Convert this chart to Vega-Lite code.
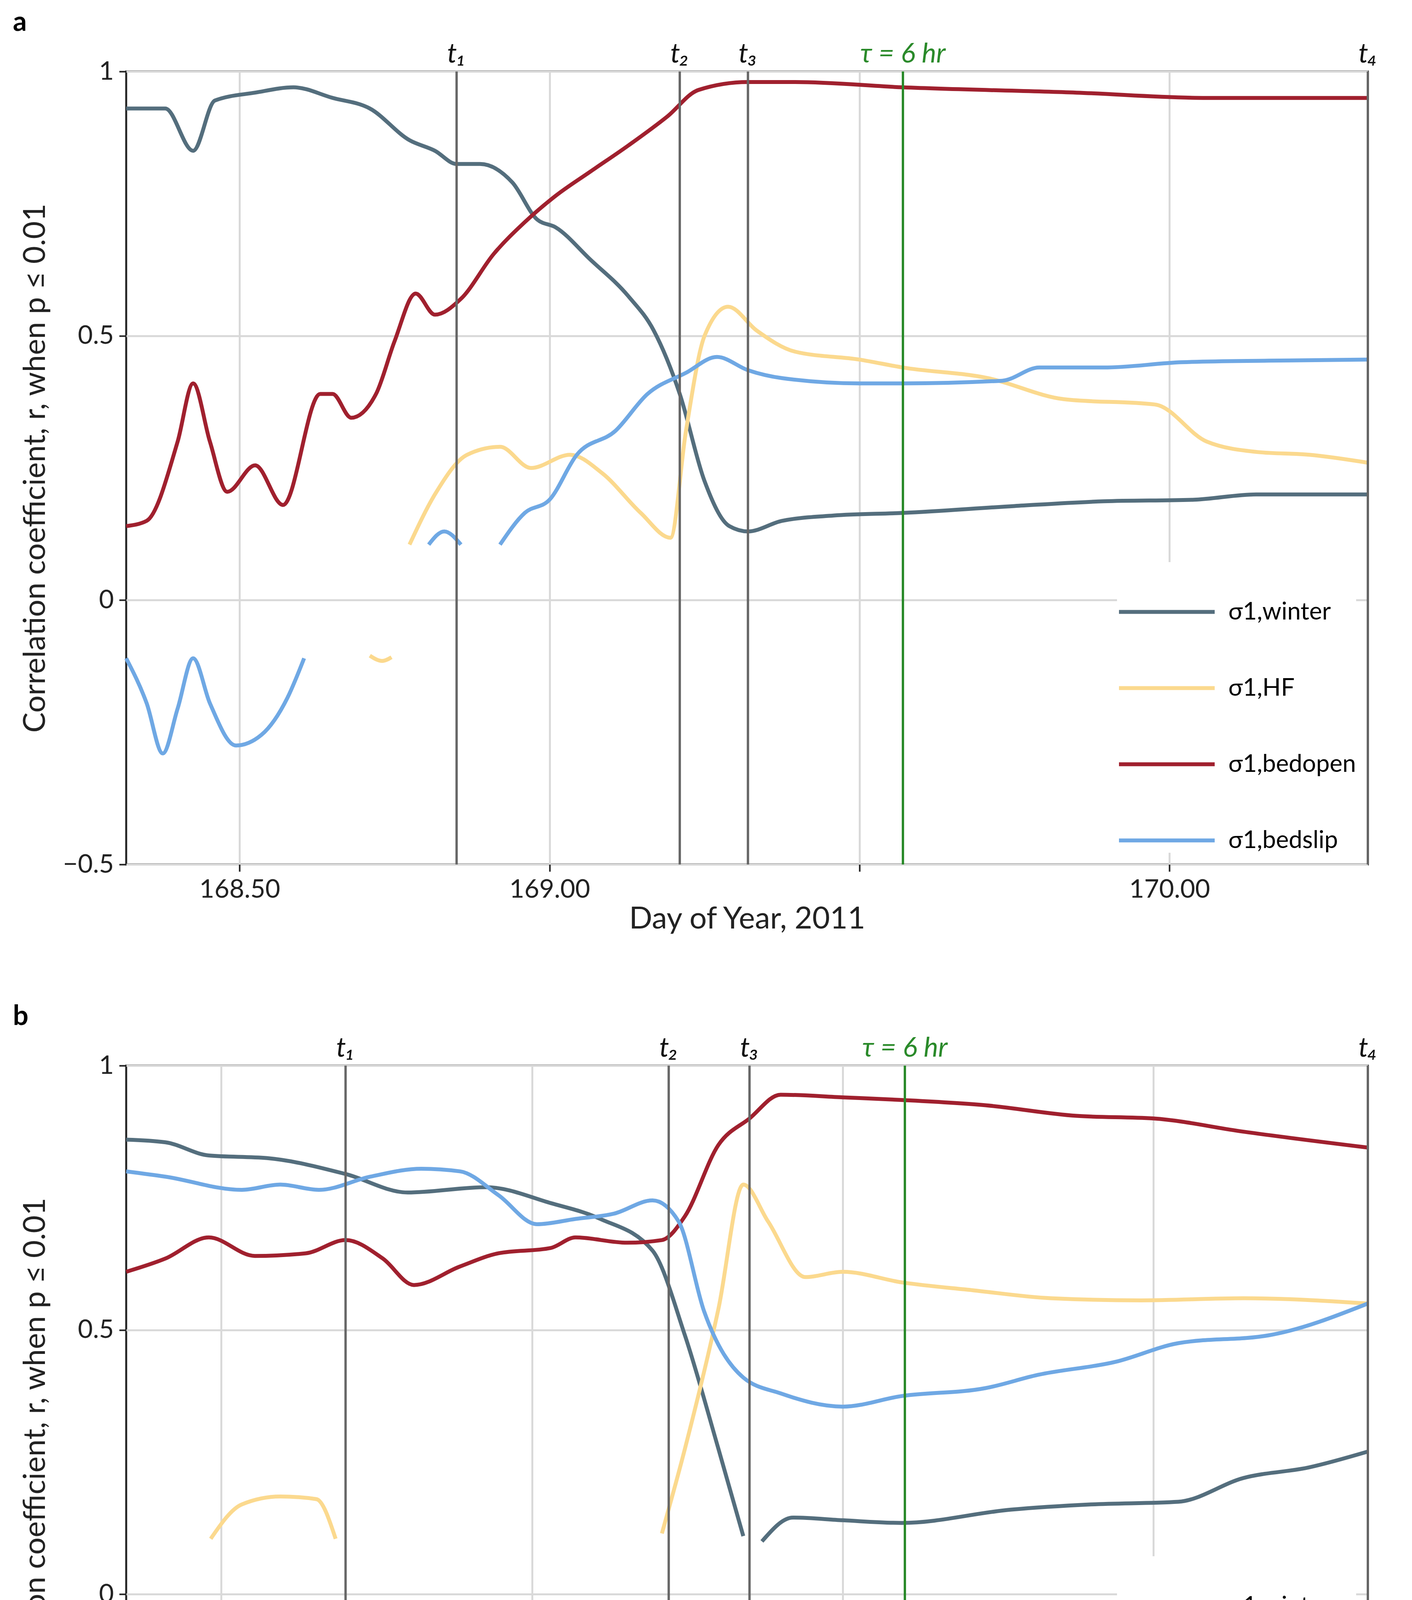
{
  "$schema": "https://vega.github.io/schema/vega-lite/v6.json",
  "background": "white",
  "padding": {"left": 30, "top": 20, "right": 60, "bottom": 10},
  "spacing": 170,
  "config": {
    "font": "Lato",
    "view": {"stroke": "#222", "strokeWidth": 5},
    "axis": {"labelFontSize": 66, "titleFontSize": 78, "titleFontWeight": "normal", "labelColor": "#222", "titleColor": "#222", "domain": false, "tickColor": "#222", "tickWidth": 4, "tickSize": 18, "gridColor": "#d9d9d9", "gridWidth": 5, "labelPadding": 14, "labelLimit": 0},
    "legend": {"labelFontSize": 62, "labelLimit": 0, "symbolType": "stroke", "symbolStrokeWidth": 10, "symbolSize": 60000, "rowPadding": 36, "labelOffset": 30, "offset": 30, "orient": "bottom-right", "fillColor": "white"},
    "title": {"fontSize": 70, "fontWeight": "bold", "anchor": "start", "frame": "group", "dx": -290, "offset": 10}
  },
  "datasets": {
    "ev_a": [
      {"x": 168.85, "lab": "t₁", "c": "ev"}, {"x": 169.21, "lab": "t₂", "c": "ev"}, {"x": 169.32, "lab": "t₃", "c": "ev"},
      {"x": 169.57, "lab": "τ = 6 hr", "c": "tau"}, {"x": 170.32, "lab": "t₄", "c": "ev"}
    ],
    "ev_b": [
      {"x": 161.2, "lab": "t₁", "c": "ev"}, {"x": 161.72, "lab": "t₂", "c": "ev"}, {"x": 161.85, "lab": "t₃", "c": "ev"},
      {"x": 162.1, "lab": "τ = 6 hr", "c": "tau"}, {"x": 162.845, "lab": "t₄", "c": "ev"}
    ],
    "a": [
      {"k": "σ1,winter", "g": 1, "x": 168.317, "y": 0.93}, {"k": "σ1,winter", "g": 1, "x": 168.38, "y": 0.93}, {"k": "σ1,winter", "g": 1, "x": 168.425, "y": 0.85}, {"k": "σ1,winter", "g": 1, "x": 168.46, "y": 0.945}, {"k": "σ1,winter", "g": 1, "x": 168.525, "y": 0.96}, {"k": "σ1,winter", "g": 1, "x": 168.587, "y": 0.97}, {"k": "σ1,winter", "g": 1, "x": 168.65, "y": 0.95}, {"k": "σ1,winter", "g": 1, "x": 168.71, "y": 0.93}, {"k": "σ1,winter", "g": 1, "x": 168.774, "y": 0.87}, {"k": "σ1,winter", "g": 1, "x": 168.815, "y": 0.85}, {"k": "σ1,winter", "g": 1, "x": 168.85, "y": 0.825}, {"k": "σ1,winter", "g": 1, "x": 168.888, "y": 0.825}, {"k": "σ1,winter", "g": 1, "x": 168.94, "y": 0.79}, {"k": "σ1,winter", "g": 1, "x": 168.98, "y": 0.72}, {"k": "σ1,winter", "g": 1, "x": 169.01, "y": 0.705}, {"k": "σ1,winter", "g": 1, "x": 169.065, "y": 0.645}, {"k": "σ1,winter", "g": 1, "x": 169.127, "y": 0.575}, {"k": "σ1,winter", "g": 1, "x": 169.168, "y": 0.51}, {"k": "σ1,winter", "g": 1, "x": 169.21, "y": 0.39}, {"k": "σ1,winter", "g": 1, "x": 169.25, "y": 0.225}, {"k": "σ1,winter", "g": 1, "x": 169.29, "y": 0.14}, {"k": "σ1,winter", "g": 1, "x": 169.32, "y": 0.13}, {"k": "σ1,winter", "g": 1, "x": 169.375, "y": 0.15}, {"k": "σ1,winter", "g": 1, "x": 169.458, "y": 0.16}, {"k": "σ1,winter", "g": 1, "x": 169.57, "y": 0.165}, {"k": "σ1,winter", "g": 1, "x": 169.75, "y": 0.178}, {"k": "σ1,winter", "g": 1, "x": 169.894, "y": 0.187}, {"k": "σ1,winter", "g": 1, "x": 170.04, "y": 0.19}, {"k": "σ1,winter", "g": 1, "x": 170.14, "y": 0.2}, {"k": "σ1,winter", "g": 1, "x": 170.32, "y": 0.2},
      {"k": "σ1,HF", "g": 1, "x": 168.71, "y": -0.105}, {"k": "σ1,HF", "g": 1, "x": 168.73, "y": -0.115}, {"k": "σ1,HF", "g": 1, "x": 168.745, "y": -0.108},
      {"k": "σ1,HF", "g": 2, "x": 168.774, "y": 0.105}, {"k": "σ1,HF", "g": 2, "x": 168.815, "y": 0.2}, {"k": "σ1,HF", "g": 2, "x": 168.867, "y": 0.275}, {"k": "σ1,HF", "g": 2, "x": 168.92, "y": 0.29}, {"k": "σ1,HF", "g": 2, "x": 168.97, "y": 0.25}, {"k": "σ1,HF", "g": 2, "x": 169.033, "y": 0.275}, {"k": "σ1,HF", "g": 2, "x": 169.085, "y": 0.24}, {"k": "σ1,HF", "g": 2, "x": 169.147, "y": 0.165}, {"k": "σ1,HF", "g": 2, "x": 169.195, "y": 0.118}, {"k": "σ1,HF", "g": 2, "x": 169.22, "y": 0.32}, {"k": "σ1,HF", "g": 2, "x": 169.25, "y": 0.5}, {"k": "σ1,HF", "g": 2, "x": 169.288, "y": 0.555}, {"k": "σ1,HF", "g": 2, "x": 169.334, "y": 0.51}, {"k": "σ1,HF", "g": 2, "x": 169.396, "y": 0.47}, {"k": "σ1,HF", "g": 2, "x": 169.5, "y": 0.455}, {"k": "σ1,HF", "g": 2, "x": 169.57, "y": 0.44}, {"k": "σ1,HF", "g": 2, "x": 169.707, "y": 0.42}, {"k": "σ1,HF", "g": 2, "x": 169.83, "y": 0.38}, {"k": "σ1,HF", "g": 2, "x": 169.977, "y": 0.37}, {"k": "σ1,HF", "g": 2, "x": 170.06, "y": 0.3}, {"k": "σ1,HF", "g": 2, "x": 170.143, "y": 0.28}, {"k": "σ1,HF", "g": 2, "x": 170.226, "y": 0.275}, {"k": "σ1,HF", "g": 2, "x": 170.32, "y": 0.26},
      {"k": "σ1,bedopen", "g": 1, "x": 168.317, "y": 0.14}, {"k": "σ1,bedopen", "g": 1, "x": 168.35, "y": 0.15}, {"k": "σ1,bedopen", "g": 1, "x": 168.4, "y": 0.3}, {"k": "σ1,bedopen", "g": 1, "x": 168.425, "y": 0.41}, {"k": "σ1,bedopen", "g": 1, "x": 168.452, "y": 0.3}, {"k": "σ1,bedopen", "g": 1, "x": 168.48, "y": 0.205}, {"k": "σ1,bedopen", "g": 1, "x": 168.525, "y": 0.255}, {"k": "σ1,bedopen", "g": 1, "x": 168.57, "y": 0.18}, {"k": "σ1,bedopen", "g": 1, "x": 168.63, "y": 0.39}, {"k": "σ1,bedopen", "g": 1, "x": 168.65, "y": 0.39}, {"k": "σ1,bedopen", "g": 1, "x": 168.68, "y": 0.345}, {"k": "σ1,bedopen", "g": 1, "x": 168.72, "y": 0.39}, {"k": "σ1,bedopen", "g": 1, "x": 168.75, "y": 0.49}, {"k": "σ1,bedopen", "g": 1, "x": 168.784, "y": 0.58}, {"k": "σ1,bedopen", "g": 1, "x": 168.815, "y": 0.54}, {"k": "σ1,bedopen", "g": 1, "x": 168.857, "y": 0.57}, {"k": "σ1,bedopen", "g": 1, "x": 168.91, "y": 0.655}, {"k": "σ1,bedopen", "g": 1, "x": 168.96, "y": 0.715}, {"k": "σ1,bedopen", "g": 1, "x": 169.01, "y": 0.765}, {"k": "σ1,bedopen", "g": 1, "x": 169.065, "y": 0.81}, {"k": "σ1,bedopen", "g": 1, "x": 169.127, "y": 0.86}, {"k": "σ1,bedopen", "g": 1, "x": 169.19, "y": 0.915}, {"k": "σ1,bedopen", "g": 1, "x": 169.24, "y": 0.965}, {"k": "σ1,bedopen", "g": 1, "x": 169.32, "y": 0.98}, {"k": "σ1,bedopen", "g": 1, "x": 169.396, "y": 0.98}, {"k": "σ1,bedopen", "g": 1, "x": 169.57, "y": 0.97}, {"k": "σ1,bedopen", "g": 1, "x": 169.85, "y": 0.96}, {"k": "σ1,bedopen", "g": 1, "x": 170.06, "y": 0.95}, {"k": "σ1,bedopen", "g": 1, "x": 170.32, "y": 0.95},
      {"k": "σ1,bedslip", "g": 1, "x": 168.317, "y": -0.11}, {"k": "σ1,bedslip", "g": 1, "x": 168.35, "y": -0.195}, {"k": "σ1,bedslip", "g": 1, "x": 168.376, "y": -0.29}, {"k": "σ1,bedslip", "g": 1, "x": 168.4, "y": -0.205}, {"k": "σ1,bedslip", "g": 1, "x": 168.425, "y": -0.11}, {"k": "σ1,bedslip", "g": 1, "x": 168.452, "y": -0.195}, {"k": "σ1,bedslip", "g": 1, "x": 168.494, "y": -0.275}, {"k": "σ1,bedslip", "g": 1, "x": 168.535, "y": -0.255}, {"k": "σ1,bedslip", "g": 1, "x": 168.577, "y": -0.185}, {"k": "σ1,bedslip", "g": 1, "x": 168.604, "y": -0.11},
      {"k": "σ1,bedslip", "g": 2, "x": 168.805, "y": 0.105}, {"k": "σ1,bedslip", "g": 2, "x": 168.83, "y": 0.13}, {"k": "σ1,bedslip", "g": 2, "x": 168.857, "y": 0.105},
      {"k": "σ1,bedslip", "g": 3, "x": 168.92, "y": 0.105}, {"k": "σ1,bedslip", "g": 3, "x": 168.96, "y": 0.165}, {"k": "σ1,bedslip", "g": 3, "x": 169.0, "y": 0.19}, {"k": "σ1,bedslip", "g": 3, "x": 169.044, "y": 0.275}, {"k": "σ1,bedslip", "g": 3, "x": 169.106, "y": 0.32}, {"k": "σ1,bedslip", "g": 3, "x": 169.158, "y": 0.39}, {"k": "σ1,bedslip", "g": 3, "x": 169.22, "y": 0.43}, {"k": "σ1,bedslip", "g": 3, "x": 169.27, "y": 0.46}, {"k": "σ1,bedslip", "g": 3, "x": 169.32, "y": 0.435}, {"k": "σ1,bedslip", "g": 3, "x": 169.375, "y": 0.42}, {"k": "σ1,bedslip", "g": 3, "x": 169.5, "y": 0.41}, {"k": "σ1,bedslip", "g": 3, "x": 169.57, "y": 0.41}, {"k": "σ1,bedslip", "g": 3, "x": 169.73, "y": 0.415}, {"k": "σ1,bedslip", "g": 3, "x": 169.79, "y": 0.44}, {"k": "σ1,bedslip", "g": 3, "x": 169.894, "y": 0.44}, {"k": "σ1,bedslip", "g": 3, "x": 170.02, "y": 0.45}, {"k": "σ1,bedslip", "g": 3, "x": 170.16, "y": 0.453}, {"k": "σ1,bedslip", "g": 3, "x": 170.32, "y": 0.455}
    ],
    "b": [
      {"k": "σ1,winter", "g": 1, "x": 160.847, "y": 0.86}, {"k": "σ1,winter", "g": 1, "x": 160.91, "y": 0.855}, {"k": "σ1,winter", "g": 1, "x": 160.98, "y": 0.83}, {"k": "σ1,winter", "g": 1, "x": 161.074, "y": 0.825}, {"k": "σ1,winter", "g": 1, "x": 161.2, "y": 0.795}, {"k": "σ1,winter", "g": 1, "x": 161.3, "y": 0.76}, {"k": "σ1,winter", "g": 1, "x": 161.426, "y": 0.77}, {"k": "σ1,winter", "g": 1, "x": 161.53, "y": 0.74}, {"k": "σ1,winter", "g": 1, "x": 161.61, "y": 0.71}, {"k": "σ1,winter", "g": 1, "x": 161.694, "y": 0.65}, {"k": "σ1,winter", "g": 1, "x": 161.746, "y": 0.49}, {"k": "σ1,winter", "g": 1, "x": 161.8, "y": 0.275}, {"k": "σ1,winter", "g": 1, "x": 161.84, "y": 0.11},
      {"k": "σ1,winter", "g": 2, "x": 161.87, "y": 0.1}, {"k": "σ1,winter", "g": 2, "x": 161.92, "y": 0.145}, {"k": "σ1,winter", "g": 2, "x": 162.0, "y": 0.14}, {"k": "σ1,winter", "g": 2, "x": 162.095, "y": 0.135}, {"k": "σ1,winter", "g": 2, "x": 162.27, "y": 0.16}, {"k": "σ1,winter", "g": 2, "x": 162.4, "y": 0.17}, {"k": "σ1,winter", "g": 2, "x": 162.54, "y": 0.175}, {"k": "σ1,winter", "g": 2, "x": 162.645, "y": 0.22}, {"k": "σ1,winter", "g": 2, "x": 162.75, "y": 0.24}, {"k": "σ1,winter", "g": 2, "x": 162.845, "y": 0.27},
      {"k": "σ1,HF", "g": 1, "x": 160.983, "y": 0.105}, {"k": "σ1,HF", "g": 1, "x": 161.033, "y": 0.17}, {"k": "σ1,HF", "g": 1, "x": 161.095, "y": 0.185}, {"k": "σ1,HF", "g": 1, "x": 161.153, "y": 0.18}, {"k": "σ1,HF", "g": 1, "x": 161.184, "y": 0.105},
      {"k": "σ1,HF", "g": 2, "x": 161.709, "y": 0.115}, {"k": "σ1,HF", "g": 2, "x": 161.746, "y": 0.275}, {"k": "σ1,HF", "g": 2, "x": 161.8, "y": 0.54}, {"k": "σ1,HF", "g": 2, "x": 161.84, "y": 0.775}, {"k": "σ1,HF", "g": 2, "x": 161.88, "y": 0.705}, {"k": "σ1,HF", "g": 2, "x": 161.94, "y": 0.6}, {"k": "σ1,HF", "g": 2, "x": 162.0, "y": 0.61}, {"k": "σ1,HF", "g": 2, "x": 162.095, "y": 0.59}, {"k": "σ1,HF", "g": 2, "x": 162.21, "y": 0.575}, {"k": "σ1,HF", "g": 2, "x": 162.335, "y": 0.56}, {"k": "σ1,HF", "g": 2, "x": 162.48, "y": 0.556}, {"k": "σ1,HF", "g": 2, "x": 162.645, "y": 0.56}, {"k": "σ1,HF", "g": 2, "x": 162.845, "y": 0.55},
      {"k": "σ1,bedopen", "g": 1, "x": 160.847, "y": 0.61}, {"k": "σ1,bedopen", "g": 1, "x": 160.91, "y": 0.635}, {"k": "σ1,bedopen", "g": 1, "x": 160.98, "y": 0.675}, {"k": "σ1,bedopen", "g": 1, "x": 161.054, "y": 0.64}, {"k": "σ1,bedopen", "g": 1, "x": 161.136, "y": 0.645}, {"k": "σ1,bedopen", "g": 1, "x": 161.2, "y": 0.67}, {"k": "σ1,bedopen", "g": 1, "x": 161.26, "y": 0.635}, {"k": "σ1,bedopen", "g": 1, "x": 161.31, "y": 0.585}, {"k": "σ1,bedopen", "g": 1, "x": 161.384, "y": 0.62}, {"k": "σ1,bedopen", "g": 1, "x": 161.446, "y": 0.645}, {"k": "σ1,bedopen", "g": 1, "x": 161.53, "y": 0.655}, {"k": "σ1,bedopen", "g": 1, "x": 161.57, "y": 0.675}, {"k": "σ1,bedopen", "g": 1, "x": 161.653, "y": 0.665}, {"k": "σ1,bedopen", "g": 1, "x": 161.709, "y": 0.67}, {"k": "σ1,bedopen", "g": 1, "x": 161.746, "y": 0.715}, {"k": "σ1,bedopen", "g": 1, "x": 161.8, "y": 0.85}, {"k": "σ1,bedopen", "g": 1, "x": 161.85, "y": 0.9}, {"k": "σ1,bedopen", "g": 1, "x": 161.9, "y": 0.945}, {"k": "σ1,bedopen", "g": 1, "x": 162.0, "y": 0.94}, {"k": "σ1,bedopen", "g": 1, "x": 162.095, "y": 0.935}, {"k": "σ1,bedopen", "g": 1, "x": 162.23, "y": 0.925}, {"k": "σ1,bedopen", "g": 1, "x": 162.376, "y": 0.905}, {"k": "σ1,bedopen", "g": 1, "x": 162.5, "y": 0.9}, {"k": "σ1,bedopen", "g": 1, "x": 162.645, "y": 0.875}, {"k": "σ1,bedopen", "g": 1, "x": 162.845, "y": 0.845},
      {"k": "σ1,bedslip", "g": 1, "x": 160.847, "y": 0.8}, {"k": "σ1,bedslip", "g": 1, "x": 160.91, "y": 0.79}, {"k": "σ1,bedslip", "g": 1, "x": 161.033, "y": 0.765}, {"k": "σ1,bedslip", "g": 1, "x": 161.095, "y": 0.775}, {"k": "σ1,bedslip", "g": 1, "x": 161.157, "y": 0.765}, {"k": "σ1,bedslip", "g": 1, "x": 161.24, "y": 0.79}, {"k": "σ1,bedslip", "g": 1, "x": 161.322, "y": 0.805}, {"k": "σ1,bedslip", "g": 1, "x": 161.384, "y": 0.8}, {"k": "σ1,bedslip", "g": 1, "x": 161.446, "y": 0.755}, {"k": "σ1,bedslip", "g": 1, "x": 161.508, "y": 0.7}, {"k": "σ1,bedslip", "g": 1, "x": 161.57, "y": 0.71}, {"k": "σ1,bedslip", "g": 1, "x": 161.632, "y": 0.72}, {"k": "σ1,bedslip", "g": 1, "x": 161.694, "y": 0.745}, {"k": "σ1,bedslip", "g": 1, "x": 161.736, "y": 0.705}, {"k": "σ1,bedslip", "g": 1, "x": 161.777, "y": 0.535}, {"k": "σ1,bedslip", "g": 1, "x": 161.84, "y": 0.41}, {"k": "σ1,bedslip", "g": 1, "x": 161.9, "y": 0.38}, {"k": "σ1,bedslip", "g": 1, "x": 162.0, "y": 0.355}, {"k": "σ1,bedslip", "g": 1, "x": 162.095, "y": 0.375}, {"k": "σ1,bedslip", "g": 1, "x": 162.23, "y": 0.39}, {"k": "σ1,bedslip", "g": 1, "x": 162.314, "y": 0.415}, {"k": "σ1,bedslip", "g": 1, "x": 162.44, "y": 0.44}, {"k": "σ1,bedslip", "g": 1, "x": 162.54, "y": 0.475}, {"k": "σ1,bedslip", "g": 1, "x": 162.686, "y": 0.49}, {"k": "σ1,bedslip", "g": 1, "x": 162.845, "y": 0.55}
    ]
  },
  "resolve": {"scale": {"color": "independent"}},
  "vconcat": [
    {
      "title": "a",
      "width": 3178,
      "height": 2030,
      "layer": [
        {
          "data": {"name": "a"},
          "mark": {"type": "line", "interpolate": "monotone", "strokeWidth": 10},
          "encoding": {
            "x": {"field": "x", "type": "quantitative", "title": "Day of Year, 2011", "scale": {"domain": [168.317, 170.32], "nice": false}, "axis": {"values": [168.5, 169, 169.5, 170], "labelExpr": "datum.value == 169.5 ? '' : datum.label", "grid": true}},
            "y": {"field": "y", "type": "quantitative", "title": "Correlation coefficient,  r,  when  p ≤ 0.01", "scale": {"domain": [-0.5, 1], "nice": false}, "axis": {"values": [-0.5, 0, 0.5, 1], "labelExpr": "datum.value == 0 ? '0' : datum.value == 1 ? '1' : format(datum.value, '.1f')", "grid": true, "titlePadding": 30}},
            "detail": {"field": "g"},
            "color": {"field": "k", "type": "nominal", "title": null, "sort": null, "scale": {"domain": ["σ1,winter", "σ1,HF", "σ1,bedopen", "σ1,bedslip"], "range": ["#546e7d", "#fbd98e", "#a0202e", "#6fa8e4"]}}
          }
        },
        {
          "data": {"name": "ev_a"},
          "mark": {"type": "rule", "strokeWidth": 6},
          "encoding": {
            "x": {"field": "x", "type": "quantitative"},
            "color": {"condition": {"test": "datum.c == 'tau'", "value": "#2a8a2a"}, "value": "#666666"}
          }
        },
        {
          "data": {"name": "ev_a"},
          "mark": {"type": "text", "fontSize": 70, "fontStyle": "italic", "baseline": "bottom", "dy": -8},
          "encoding": {
            "x": {"field": "x", "type": "quantitative"},
            "y": {"datum": 1},
            "text": {"field": "lab"},
            "color": {"condition": {"test": "datum.c == 'tau'", "value": "#2a8a2a"}, "value": "#111111"}
          }
        }
      ]
    },
    {
      "title": "b",
      "width": 3178,
      "height": 2030,
      "layer": [
        {
          "data": {"name": "b"},
          "mark": {"type": "line", "interpolate": "monotone", "strokeWidth": 10},
          "encoding": {
            "x": {"field": "x", "type": "quantitative", "title": "Day of Year, 2012", "scale": {"domain": [160.847, 162.845], "nice": false}, "axis": {"values": [161, 161.5, 162, 162.5], "grid": true}},
            "y": {"field": "y", "type": "quantitative", "title": "Correlation coefficient,  r,  when  p ≤ 0.01", "scale": {"domain": [-0.5, 1], "nice": false}, "axis": {"values": [-0.5, 0, 0.5, 1], "labelExpr": "datum.value == 0 ? '0' : datum.value == 1 ? '1' : format(datum.value, '.1f')", "grid": true, "titlePadding": 30}},
            "detail": {"field": "g"},
            "color": {"field": "k", "type": "nominal", "title": null, "sort": null, "scale": {"domain": ["σ1,winter", "σ1,HF", "σ1,bedopen", "σ1,bedslip"], "range": ["#546e7d", "#fbd98e", "#a0202e", "#6fa8e4"]}}
          }
        },
        {
          "data": {"name": "ev_b"},
          "mark": {"type": "rule", "strokeWidth": 6},
          "encoding": {
            "x": {"field": "x", "type": "quantitative"},
            "color": {"condition": {"test": "datum.c == 'tau'", "value": "#2a8a2a"}, "value": "#666666"}
          }
        },
        {
          "data": {"name": "ev_b"},
          "mark": {"type": "text", "fontSize": 70, "fontStyle": "italic", "baseline": "bottom", "dy": -8},
          "encoding": {
            "x": {"field": "x", "type": "quantitative"},
            "y": {"datum": 1},
            "text": {"field": "lab"},
            "color": {"condition": {"test": "datum.c == 'tau'", "value": "#2a8a2a"}, "value": "#111111"}
          }
        }
      ]
    }
  ]
}
